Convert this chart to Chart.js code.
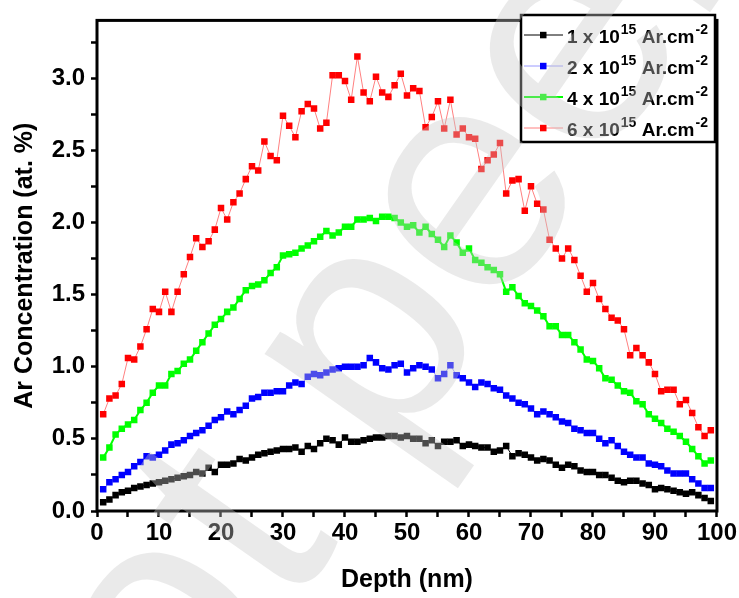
<!DOCTYPE html>
<html>
<head>
<meta charset="utf-8">
<script src="https://cdn.jsdelivr.net/npm/chart.js@4.4.1/dist/chart.umd.min.js"></script>
<style>
  html, body { margin: 0; padding: 0; background: #fff; }
  #wrap { width: 739px; height: 598px; }
</style>
</head>
<body>
<div id="wrap"><canvas id="depthChart" width="739" height="598"></canvas></div>
<script>
// depth (nm)
const depth = [1, 2, 3, 4, 5, 6, 7, 8, 9, 10, 11, 12, 13, 14, 15, 16, 17, 18, 19, 20,
  21, 22, 23, 24, 25, 26, 27, 28, 29, 30, 31, 32, 33, 34, 35, 36, 37, 38, 39, 40,
  41, 42, 43, 44, 45, 46, 47, 48, 49, 50, 51, 52, 53, 54, 55, 56, 57, 58, 59, 60,
  61, 62, 63, 64, 65, 66, 67, 68, 69, 70, 71, 72, 73, 74, 75, 76, 77, 78, 79, 80,
  81, 82, 83, 84, 85, 86, 87, 88, 89, 90, 91, 92, 93, 94, 95, 96, 97, 98, 99];

// Ar concentration (at. %) per dose
const dose1 = [0.06, 0.08, 0.11, 0.13, 0.14, 0.16, 0.17, 0.18, 0.19, 0.20, 0.21, 0.22, 0.23, 0.24, 0.25, 0.27, 0.26, 0.30, 0.27, 0.32,
  0.32, 0.33, 0.36, 0.35, 0.37, 0.39, 0.40, 0.41, 0.42, 0.43, 0.43, 0.44, 0.41, 0.45, 0.43, 0.47, 0.50, 0.49, 0.46, 0.51,
  0.48, 0.48, 0.49, 0.50, 0.51, 0.51, 0.52, 0.52, 0.51, 0.52, 0.50, 0.50, 0.47, 0.49, 0.45, 0.48, 0.48, 0.49, 0.45, 0.46,
  0.45, 0.44, 0.44, 0.41, 0.42, 0.45, 0.38, 0.40, 0.39, 0.37, 0.35, 0.36, 0.35, 0.32, 0.30, 0.32, 0.31, 0.28, 0.27, 0.27,
  0.25, 0.25, 0.23, 0.21, 0.20, 0.21, 0.21, 0.19, 0.18, 0.15, 0.16, 0.15, 0.14, 0.13, 0.12, 0.13, 0.11, 0.09, 0.07];
const dose2 = [0.15, 0.20, 0.22, 0.25, 0.27, 0.31, 0.34, 0.38, 0.37, 0.39, 0.42, 0.46, 0.47, 0.49, 0.52, 0.54, 0.56, 0.59, 0.63, 0.65,
  0.69, 0.67, 0.70, 0.73, 0.78, 0.79, 0.82, 0.82, 0.83, 0.83, 0.87, 0.89, 0.88, 0.93, 0.95, 0.94, 0.96, 0.98, 0.99, 1.00,
  1.00, 1.00, 1.01, 1.06, 1.03, 0.99, 0.98, 1.01, 1.02, 0.96, 0.99, 1.01, 1.00, 0.98, 0.92, 0.95, 1.01, 0.94, 0.92, 0.89,
  0.86, 0.89, 0.88, 0.85, 0.84, 0.80, 0.78, 0.75, 0.74, 0.71, 0.67, 0.69, 0.67, 0.65, 0.62, 0.61, 0.57, 0.56, 0.54, 0.54,
  0.50, 0.47, 0.49, 0.45, 0.41, 0.39, 0.37, 0.37, 0.33, 0.32, 0.31, 0.28, 0.26, 0.26, 0.26, 0.22, 0.19, 0.16, 0.16];
const dose4 = [0.37, 0.44, 0.53, 0.57, 0.60, 0.63, 0.70, 0.75, 0.82, 0.87, 0.87, 0.95, 0.97, 1.02, 1.05, 1.11, 1.17, 1.23, 1.29, 1.33,
  1.38, 1.41, 1.47, 1.53, 1.56, 1.57, 1.60, 1.65, 1.69, 1.77, 1.78, 1.79, 1.82, 1.84, 1.87, 1.90, 1.94, 1.91, 1.93, 1.97,
  1.97, 2.02, 2.02, 2.03, 2.01, 2.04, 2.04, 2.03, 2.00, 1.97, 1.98, 1.93, 1.97, 1.92, 1.88, 1.83, 1.91, 1.86, 1.79, 1.82,
  1.74, 1.72, 1.69, 1.67, 1.64, 1.52, 1.55, 1.49, 1.44, 1.42, 1.39, 1.35, 1.28, 1.28, 1.22, 1.22, 1.17, 1.12, 1.05, 1.04,
  0.99, 0.92, 0.91, 0.87, 0.83, 0.82, 0.76, 0.74, 0.67, 0.64, 0.61, 0.57, 0.55, 0.52, 0.48, 0.43, 0.38, 0.33, 0.35];
const dose6 = [0.67, 0.78, 0.80, 0.88, 1.06, 1.05, 1.14, 1.26, 1.40, 1.38, 1.52, 1.38, 1.52, 1.64, 1.76, 1.89, 1.83, 1.87, 1.95, 2.10,
  2.02, 2.14, 2.20, 2.30, 2.39, 2.36, 2.56, 2.46, 2.43, 2.74, 2.67, 2.59, 2.77, 2.82, 2.79, 2.65, 2.69, 3.02, 3.02, 2.98,
  2.85, 3.15, 2.90, 2.84, 3.01, 2.90, 2.87, 2.95, 3.03, 2.88, 2.93, 2.91, 2.66, 2.73, 2.84, 2.65, 2.85, 2.61, 2.65, 2.59,
  2.58, 2.37, 2.43, 2.47, 2.55, 2.20, 2.29, 2.30, 2.08, 2.25, 2.13, 2.09, 1.88, 1.82, 1.75, 1.82, 1.74, 1.63, 1.52, 1.58,
  1.47, 1.40, 1.34, 1.32, 1.26, 1.08, 1.13, 1.08, 1.03, 0.95, 0.83, 0.84, 0.84, 0.74, 0.77, 0.68, 0.58, 0.52, 0.56];

const doseLabels = ['1', '2', '4', '6'];
const xTicks = [0, 10, 20, 30, 40, 50, 60, 70, 80, 90, 100];
const yTicks = [0.0, 0.5, 1.0, 1.5, 2.0, 2.5, 3.0];

const FONT = '"Liberation Sans", Arial, sans-serif';

function makeSet(label, values, line, marker, width) {
  return {
    label: label,
    data: values.map((v, i) => ({ x: depth[i], y: v })),
    borderColor: line,
    borderWidth: width,
    pointStyle: 'rect',
    pointRadius: 4.6,
    pointBorderWidth: 0,
    pointBackgroundColor: marker,
    pointHoverRadius: 4.6,
    tension: 0
  };
}

// thick frame round the plot
const framePlugin = {
  id: 'frame',
  afterDatasetsDraw(chart) {
    const a = chart.chartArea;
    const ctx = chart.ctx;
    ctx.save();
    ctx.strokeStyle = '#000';
    ctx.lineWidth = 3;
    ctx.strokeRect(a.left, a.top, a.right - a.left, a.bottom - a.top);
    ctx.restore();
  }
};

// legend with superscripts
const legendPlugin = {
  id: 'doseLegend',
  afterDraw(chart) {
    const ctx = chart.ctx;
    ctx.save();
    ctx.fillStyle = '#fff';
    ctx.fillRect(521, 15, 194, 127);
    ctx.strokeStyle = '#000';
    ctx.lineWidth = 2.5;
    ctx.strokeRect(521, 15, 194, 127);
    chart.data.datasets.forEach((ds, i) => {
      const y = 35 + i * 31;
      ctx.strokeStyle = ds.borderColor;
      ctx.lineWidth = ds.borderWidth;
      ctx.beginPath();
      ctx.moveTo(524, y);
      ctx.lineTo(563, y);
      ctx.stroke();
      ctx.fillStyle = ds.pointBackgroundColor;
      ctx.fillRect(540, y - 3.2, 6.5, 6.5);

      ctx.fillStyle = '#000';
      ctx.textBaseline = 'alphabetic';
      let x = 567;
      const base = y + 7.5;
      ctx.font = 'bold 19px ' + FONT;
      const t1 = doseLabels[i] + ' x 10';
      ctx.fillText(t1, x, base);
      x += ctx.measureText(t1).width;
      ctx.font = 'bold 14px ' + FONT;
      ctx.fillText('15', x + 1, base - 9);
      x += ctx.measureText('15').width + 1;
      ctx.font = 'bold 19px ' + FONT;
      const t2 = ' Ar.cm';
      ctx.fillText(t2, x, base);
      x += ctx.measureText(t2).width;
      ctx.font = 'bold 14px ' + FONT;
      ctx.fillText('-2', x + 1, base - 9);
    });
    ctx.restore();
  }
};

// faint diagonal watermark on top
const markPlugin = {
  id: 'watermark',
  afterDraw(chart) {
    const ctx = chart.ctx;
    ctx.save();
    ctx.translate(85, 905);
    ctx.rotate(-55 * Math.PI / 180);
    ctx.font = '320px ' + FONT;
    ctx.fillStyle = 'rgba(200,200,200,0.38)';
    ctx.textBaseline = 'alphabetic';
    ctx.fillText('not peer reviewed', 0, 0);
    ctx.restore();
  }
};

const ctx = document.getElementById('depthChart').getContext('2d');
new Chart(ctx, {
  type: 'line',
  data: {
    datasets: [
      makeSet('1 x 10^15 Ar.cm^-2', dose1, '#000000', '#000000', 1),
      makeSet('2 x 10^15 Ar.cm^-2', dose2, '#9a9aff', '#0000ff', 1),
      makeSet('4 x 10^15 Ar.cm^-2', dose4, '#00ff00', '#00ff00', 2),
      makeSet('6 x 10^15 Ar.cm^-2', dose6, '#ff8080', '#ff0000', 1)
    ]
  },
  options: {
    responsive: false,
    animation: false,
    layout: { padding: { top: 11, right: 22, left: 0, bottom: 0 } },
    plugins: {
      legend: { display: false },
      tooltip: { enabled: false }
    },
    scales: {
      x: {
        type: 'linear',
        min: 0,
        max: 100,
        afterFit: (s) => { s.height = 87; },
        afterBuildTicks: (s) => {
          s.ticks = [];
          for (let v = 0; v <= 100; v += 5) s.ticks.push({ value: v });
        },
        ticks: {
          color: '#000',
          padding: 2,
          maxRotation: 0,
          autoSkip: false,
          font: { family: FONT, size: 24, weight: 'bold' },
          callback: (v) => (xTicks.includes(v) ? String(v) : '')
        },
        grid: { drawOnChartArea: false, color: '#000', tickLength: 6, tickWidth: 2.5 },
        border: { display: false },
        title: {
          display: true,
          text: 'Depth (nm)',
          color: '#000',
          padding: 3,
          font: { family: FONT, size: 25, weight: 'bold' }
        }
      },
      y: {
        min: 0,
        max: 3.4,
        afterFit: (s) => { s.width = 97; },
        afterBuildTicks: (s) => {
          s.ticks = [];
          for (let k = 0; k <= 13; k++) s.ticks.push({ value: k * 0.25 });
        },
        ticks: {
          color: '#000',
          padding: 6,
          autoSkip: false,
          font: { family: FONT, size: 24, weight: 'bold' },
          callback: (v) => (yTicks.some((t) => Math.abs(t - v) < 1e-6) ? v.toFixed(1) : '')
        },
        grid: { drawOnChartArea: false, color: '#000', tickLength: 6, tickWidth: 2.5 },
        border: { display: false },
        title: {
          display: true,
          text: 'Ar Concentration (at. %)',
          color: '#000',
          padding: 10,
          font: { family: FONT, size: 25, weight: 'bold' }
        }
      }
    }
  },
  plugins: [framePlugin, legendPlugin, markPlugin]
});
</script>
</body>
</html>
